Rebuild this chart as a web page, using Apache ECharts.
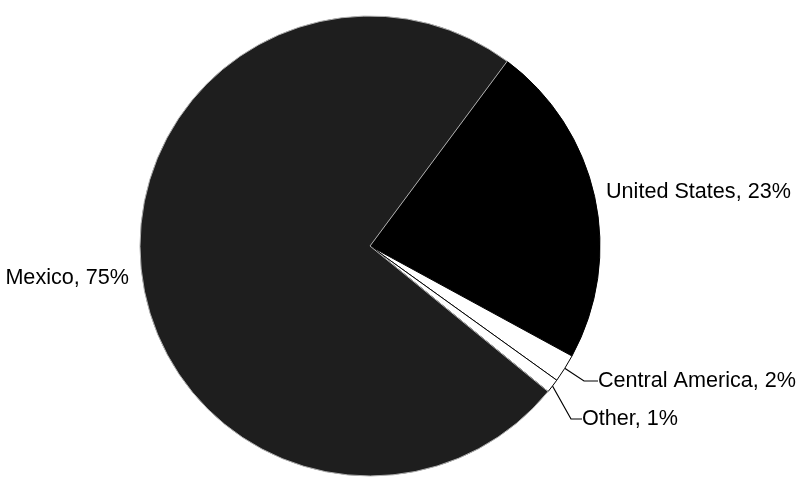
<!DOCTYPE html>
<html>
<head>
<meta charset="utf-8">
<script src="https://cdn.jsdelivr.net/npm/echarts@6/dist/echarts.min.js"></script>
<style>
  html, body { margin: 0; padding: 0; background: #fff; }
  #main { width: 803px; height: 478px; }
</style>
</head>
<body>
<div id="main"></div>
<script>
// slices, clockwise from the upper right
var regions = ['United States', 'Central America', 'Other', 'Mexico'];
var shares = [23, 2, 1, 75];

// label anchors [x, y, align]
var labelPos = [
  [606, 192, 'left'],
  [598, 381, 'left'],
  [582, 419, 'left'],
  [129, 278, 'right']
];
var fills = ['#000000', '#ffffff', '#ffffff', '#1e1e1e'];
var edges = ['#000000', '#000000', '#000000', '#b0b0b0'];
var guide = [false, true, true, false];
var guideLen = [0, 14, 11, 0];

var chart = echarts.init(document.getElementById('main'));

var pieData = regions.map(function (name, i) {
  return {
    name: name,
    value: shares[i],
    itemStyle: { color: fills[i], borderColor: edges[i], borderWidth: 1 },
    labelLine: {
      show: guide[i],
      length: 10,
      length2: guideLen[i],
      lineStyle: { color: '#000', width: 1.2 }
    }
  };
});

var option = {
  animation: false,
  backgroundColor: '#fff',
  series: [{
    type: 'pie',
    center: [370, 246],
    radius: 230,
    startAngle: 53.4,
    clockwise: true,
    avoidLabelOverlap: false,
    emphasis: { disabled: true },
    label: {
      show: true,
      color: '#000',
      fontFamily: 'Liberation Sans, Arial, sans-serif',
      fontSize: 21.6,
      formatter: function (p) { return p.name + ', ' + p.value + '%'; }
    },
    labelLayout: function (p) {
      var pos = labelPos[p.dataIndex];
      return { x: pos[0], y: pos[1], align: pos[2], verticalAlign: 'middle' };
    },
    data: pieData
  }]
};

chart.setOption(option);
</script>
</body>
</html>
